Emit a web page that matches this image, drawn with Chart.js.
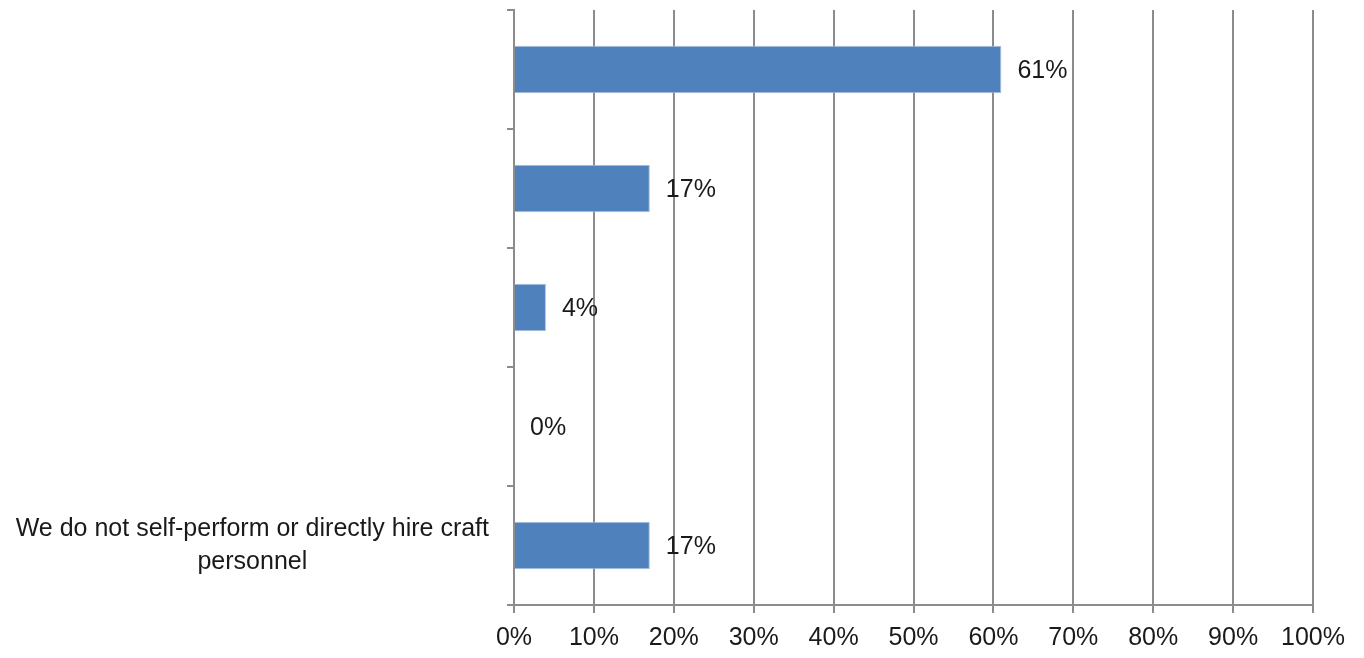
<!DOCTYPE html>
<html>
<head>
<meta charset="utf-8">
<script src="https://cdn.jsdelivr.net/npm/chart.js@4/dist/chart.umd.min.js"></script>
<style>
  html, body { margin: 0; padding: 0; background: #fff; }
  #wrap { width: 1364px; height: 658px; position: relative; }
</style>
</head>
<body>
<div id="wrap"><canvas id="c"></canvas></div>
<script>
const categories = [
  "",
  "",
  "",
  "",
  ["We do not self-perform or directly hire craft", "personnel"]
];
const values = [61, 17, 4, 0, 17];
const xTickMin = 0;
const xTickMax = 100;
const xTickStep = 10;

const FONT = "'Liberation Sans Narrow', 'Liberation Sans', Arial, sans-serif";
const FONT_SIZE = 25;
const TEXT_COLOR = '#1a1a1a';

const valueLabels = {
  id: 'valueLabels',
  afterDatasetsDraw(chart) {
    const ctx = chart.ctx;
    const meta = chart.getDatasetMeta(0);
    ctx.save();
    ctx.font = FONT_SIZE + "px " + FONT;
    ctx.fillStyle = TEXT_COLOR;
    ctx.textAlign = 'left';
    ctx.textBaseline = 'middle';
    meta.data.forEach((bar, i) => {
      ctx.fillText(values[i] + '%', bar.x + 16, bar.y + 2);
    });
    ctx.restore();
  }
};

new Chart(document.getElementById('c'), {
  type: 'bar',
  data: {
    labels: categories,
    datasets: [{
      data: values,
      backgroundColor: '#4F81BD',
      borderColor: '#A9C0DF',
      borderWidth: 1,
      barPercentage: 0.4,
      categoryPercentage: 1.0
    }]
  },
  options: {
    indexAxis: 'y',
    responsive: true,
    maintainAspectRatio: false,
    animation: false,
    layout: { padding: { top: 10, right: 51, bottom: 0, left: 0 } },
    plugins: { legend: { display: false }, tooltip: { enabled: false } },
    scales: {
      x: {
        min: xTickMin,
        max: xTickMax,
        ticks: {
          stepSize: xTickStep,
          callback: v => v + '%',
          color: TEXT_COLOR,
          font: { family: FONT, size: FONT_SIZE },
          padding: 10,
          maxRotation: 0
        },
        grid: { color: '#8C8C8C', lineWidth: 2, tickLength: 8, drawTicks: true },
        border: { color: '#8C8C8C', width: 2 },
        afterFit(scale) { scale.height = 53; }
      },
      y: {
        ticks: {
          color: TEXT_COLOR,
          font: { family: FONT, size: FONT_SIZE, lineHeight: 1.3 },
          padding: 18,
          crossAlign: 'center'
        },
        grid: { drawOnChartArea: false, drawTicks: true, tickLength: 7, offset: true, color: '#8C8C8C', lineWidth: 2 },
        border: { color: '#8C8C8C', width: 2 },
        afterFit(scale) {
          scale.width = 514;
          scale.paddingTop = 0;
          scale.paddingBottom = 0;
        }
      }
    }
  },
  plugins: [valueLabels]
});
</script>
</body>
</html>
